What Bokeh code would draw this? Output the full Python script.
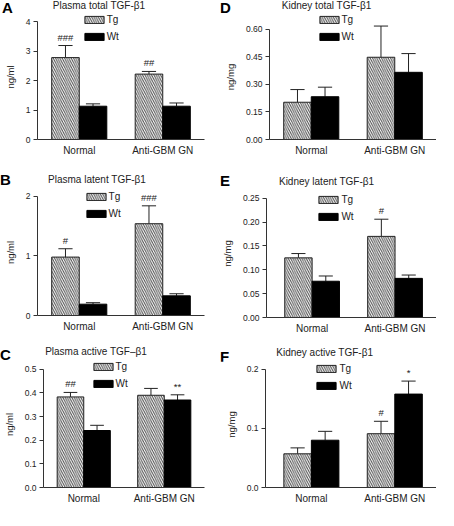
from bokeh.plotting import figure
from bokeh.models import (Range1d, FixedTicker, Legend, LegendItem,
                          ColumnDataSource, PrintfTickFormatter, Div)
from bokeh.layouts import column, row
from bokeh.embed import file_html
from bokeh.resources import INLINE
from bokeh.core.properties import value

# ---------------- data ----------------
groups = ["Normal", "Anti-GBM GN"]
series = ["Tg", "Wt"]

# A: Plasma total TGF-b1 (ng/ml)
A_tg = [2.78, 2.22]
A_tg_err = [0.41, 0.09]
A_wt = [1.13, 1.13]
A_wt_err = [0.08, 0.11]
A_tg_sig = ["###", "##"]
A_wt_sig = ["", ""]

# B: Plasma latent TGF-b1 (ng/ml)
B_tg = [0.98, 1.54]
B_tg_err = [0.14, 0.30]
B_wt = [0.19, 0.33]
B_wt_err = [0.025, 0.035]
B_tg_sig = ["#", "###"]
B_wt_sig = ["", ""]

# C: Plasma active TGF-b1 (ng/ml)
C_tg = [0.383, 0.390]
C_tg_err = [0.019, 0.029]
C_wt = [0.241, 0.370]
C_wt_err = [0.022, 0.022]
C_tg_sig = ["##", ""]
C_wt_sig = ["", "**"]

# D: Kidney total TGF-b1 (ng/mg)
D_tg = [0.203, 0.448]
D_tg_err = [0.069, 0.170]
D_wt = [0.233, 0.366]
D_wt_err = [0.052, 0.102]
D_tg_sig = ["", ""]
D_wt_sig = ["", ""]

# E: Kidney latent TGF-b1 (ng/mg)
E_tg = [0.125, 0.170]
E_tg_err = [0.009, 0.036]
E_wt = [0.076, 0.082]
E_wt_err = [0.011, 0.007]
E_tg_sig = ["", "#"]
E_wt_sig = ["", ""]

# F: Kidney active TGF-b1 (ng/mg)
F_tg = [0.057, 0.091]
F_tg_err = [0.010, 0.021]
F_wt = [0.080, 0.158]
F_wt_err = [0.015, 0.022]
F_tg_sig = ["", "#"]
F_wt_sig = ["", "*"]

A_ticks = [0, 1, 2, 3, 4]
B_ticks = [0, 1, 2]
C_ticks = [0.0, 0.1, 0.2, 0.3, 0.4, 0.5]
D_ticks = [0.0, 0.15, 0.30, 0.45, 0.60]
E_ticks = [0.0, 0.05, 0.10, 0.15, 0.20, 0.25]
F_ticks = [0.0, 0.1, 0.2]

FONT = "Liberation Sans"
TXT = "#222222"
SX = 0.96
SY = 0.962
W = 218
ROWS = [(0, 165, 14), (172, 174, 24), (352, 167, 22)]   # ref top, height, header height
COLS = [0, 227]


def header(letter, title, hh, col_left, row_top, letter_pos, title_pos):
    lx = (letter_pos[0] - col_left) * SX
    ly = (letter_pos[1] - row_top) * SY - 12.7   # baseline -> box top (15px, lh 1)
    tx = (title_pos[0] - col_left) * SX
    ty = (title_pos[1] - row_top) * SY
    html = (
        f'<div style="position:relative;width:{W}px;height:{hh}px;overflow:visible;'
        f'font-family:\'{FONT}\';">'
        f'<span style="position:absolute;left:{lx:.1f}px;top:{ly:.1f}px;font-size:15px;'
        f'font-weight:bold;line-height:1;color:black;white-space:nowrap;">{letter}</span>'
        f'<span style="position:absolute;left:{tx:.1f}px;top:{ty:.1f}px;font-size:10px;'
        f'line-height:1;color:{TXT};white-space:nowrap;transform:translate(-50%,-50%);">'
        f'{title}</span></div>'
    )
    return Div(text=html, width=W, height=hh, margin=0)


def panel(letter, title, ylabel, tg, tg_err, wt, wt_err, tg_sig, wt_sig,
          ticks, ymax, fmt, ri, ci, xstart, frame_ref, letter_pos, title_pos, legend_pos):
    row_top, row_h, hh = ROWS[ri]
    col_left = COLS[ci]
    fl, fr, ft, fb = frame_ref      # ref: axis left x, axis right x, y-max y, y-zero y
    bl = round((fl - col_left) * SX)
    br = max(0, round(W - (fr - col_left) * SX))
    hm = row_h - hh
    bb = round(row_h - (fb - row_top) * SY)
    fh = hm - bb
    pad = (ft - row_top) * SY - hh
    yend = ymax * fh / (fh - pad)

    p = figure(width=W, height=hm, output_backend="svg",
               toolbar_location=None, tools="",
               x_range=Range1d(xstart, 2.5), y_range=Range1d(0, yend),
               min_border_left=bl, min_border_right=br,
               min_border_top=0, min_border_bottom=bb)
    p.outline_line_color = None
    p.xgrid.visible = False
    p.ygrid.visible = False

    centers = list(range(1, len(groups) + 1))
    bw = 0.33
    cap = 0.085
    tg_x = [c - bw / 2 for c in centers]
    wt_x = [c + bw / 2 for c in centers]

    tg_src = ColumnDataSource(dict(x=tg_x, top=tg, err=[m + e for m, e in zip(tg, tg_err)],
                                   x0=[x - cap for x in tg_x], x1=[x + cap for x in tg_x],
                                   sig=tg_sig))
    wt_src = ColumnDataSource(dict(x=wt_x, top=wt, err=[m + e for m, e in zip(wt, wt_err)],
                                   x0=[x - cap for x in wt_x], x1=[x + cap for x in wt_x],
                                   sig=wt_sig))

    for src in (tg_src, wt_src):
        p.segment(x0="x", y0="top", x1="x", y1="err", source=src,
                  line_color="#222222", line_width=1)
        p.segment(x0="x0", y0="err", x1="x1", y1="err", source=src,
                  line_color="#222222", line_width=1)

    r_tg = p.vbar(x="x", top="top", width=bw, bottom=0, source=tg_src,
                  fill_color="white", line_color="#222222", line_width=1,
                  hatch_pattern="left_diagonal_line", hatch_color="#4a4a4a",
                  hatch_scale=4.5, hatch_weight=1)
    r_wt = p.vbar(x="x", top="top", width=bw, bottom=0, source=wt_src,
                  fill_color="black", line_color="black", line_width=1)

    for src in (tg_src, wt_src):
        p.text(x="x", y="err", text="sig", source=src, text_align="center",
               text_baseline="bottom", y_offset=-3, text_font_size="9.5px",
               text_font=value(FONT), text_color=TXT)

    # y axis
    p.yaxis.ticker = FixedTicker(ticks=ticks)
    p.yaxis.formatter = PrintfTickFormatter(format=fmt)
    p.yaxis.bounds = (0, ymax)
    p.yaxis.minor_tick_line_color = None
    p.yaxis.major_tick_out = 4
    p.yaxis.major_tick_in = 0
    p.yaxis.major_label_standoff = 3
    p.yaxis.major_label_text_font_size = "8.5px"
    p.yaxis.major_label_text_font = FONT
    p.yaxis.major_label_text_color = TXT
    p.yaxis.axis_label = ylabel
    p.yaxis.axis_label_text_font = FONT
    p.yaxis.axis_label_text_font_size = "9.5px"
    p.yaxis.axis_label_text_font_style = "normal"
    p.yaxis.axis_label_text_color = TXT
    p.yaxis.axis_label_standoff = 7
    p.yaxis.axis_line_color = "#333333"
    p.yaxis.major_tick_line_color = "#333333"

    # x axis
    p.xaxis.ticker = FixedTicker(ticks=centers)
    p.xaxis.major_label_overrides = {c: g for c, g in zip(centers, groups)}
    p.xaxis.minor_tick_line_color = None
    p.xaxis.major_tick_line_color = None
    p.xaxis.major_tick_out = 0
    p.xaxis.major_tick_in = 0
    p.xaxis.major_label_standoff = 5
    p.xaxis.major_label_text_font_size = "10px"
    p.xaxis.major_label_text_font = FONT
    p.xaxis.major_label_text_color = TXT
    p.xaxis.axis_line_color = "#333333"

    # legend (bottom-left anchored, frame-relative px)
    gh, sp = 9, 6
    leg_h = 2 * gh + sp
    gx = (legend_pos[0] - fl) * SX - 2.4
    top_off = max(1.5, (legend_pos[1] - row_top) * SY - hh - 0.9)
    gy = fh - top_off - leg_h
    legend = Legend(items=[LegendItem(label=series[0], renderers=[r_tg]),
                           LegendItem(label=series[1], renderers=[r_wt])],
                    location=(gx, gy), glyph_width=24, glyph_height=gh,
                    label_height=gh, label_standoff=1, spacing=sp, padding=0, margin=0,
                    border_line_alpha=0, background_fill_alpha=0,
                    label_text_font=FONT, label_text_font_size="10px",
                    label_text_color=TXT, label_text_baseline="middle")
    p.add_layout(legend)

    h = header(letter, title, hh, col_left, row_top, letter_pos, title_pos)
    return column(h, p, spacing=0)


pA = panel("A", "Plasma total TGF-\u03b21", "ng/ml", A_tg, A_tg_err, A_wt, A_wt_err,
           A_tg_sig, A_wt_sig, A_ticks, 4, "%d", 0, 0, 0.5,
           (39, 212, 22, 145), (2, 13), (103, 6), (88, 20))
pB = panel("B", "Plasma latent TGF-\u03b21", "ng/ml", B_tg, B_tg_err, B_wt, B_wt_err,
           B_tg_sig, B_wt_sig, B_ticks, 2, "%d", 1, 0, 0.5,
           (39, 213, 204, 328), (0, 192), (101, 188), (90, 204))
pC = panel("C", "Plasma active TGF\u2013\u03b21", "ng/ml", C_tg, C_tg_err, C_wt, C_wt_err,
           C_tg_sig, C_wt_sig, C_ticks, 0.5, "%.1f", 2, 0, 0.5,
           (40, 213, 383, 507), (0, 373), (100, 365), (92, 381))
pD = panel("D", "Kidney total TGF-\u03b21", "ng/mg", D_tg, D_tg_err, D_wt, D_wt_err,
           D_tg_sig, D_wt_sig, D_ticks, 0.6, "%.2f", 0, 1, 0.5,
           (280, 454, 30, 144), (229, 13), (340, 6), (332, 20))
pE = panel("E", "Kidney latent TGF-\u03b21", "ng/mg", E_tg, E_tg_err, E_wt, E_wt_err,
           E_tg_sig, E_wt_sig, E_ticks, 0.25, "%.2f", 1, 1, 0.45,
           (277, 454, 206, 330), (229, 193), (340, 190), (332, 207))
pF = panel("F", "Kidney active TGF-\u03b21", "ng/mg", F_tg, F_tg_err, F_wt, F_wt_err,
           F_tg_sig, F_wt_sig, F_ticks, 0.2, "%.1f", 2, 1, 0.45,
           (276, 454, 383, 507), (229, 376), (338, 366), (330, 383))

layout = column(row(pA, pD, spacing=0), row(pB, pE, spacing=0),
                row(pC, pF, spacing=0), spacing=0)
open("out.html", "w").write(file_html(layout, INLINE))
